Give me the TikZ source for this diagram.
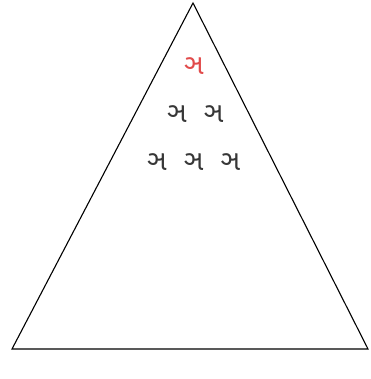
\documentclass[tikz,border=0pt]{standalone}
\usepackage{fontspec}
\newfontfamily\gujfont[Script=Gujarati]{Noto Sans Gujarati UI}
\usetikzlibrary{positioning}
\definecolor{topred}{RGB}{225,75,75}
\definecolor{letgray}{RGB}{55,55,55}
\tikzset{
    letter/.style={font=\gujfont\fontsize{28}{28}\selectfont, text=letgray, inner sep=0pt},
    topletter/.style={letter, text=topred},
}
\begin{document}
\begin{tikzpicture}[x=1pt, y=-1pt]
        \useasboundingbox (0,0) rectangle (370,379);
        \coordinate (apex) at (193,3);
        \coordinate (left) at (12,349);
        \coordinate (right) at (368,349);
        \draw[line width=1.1pt, line join=miter] (apex) -- (right) -- (left) -- cycle;
        \node [topletter] (top) at (194,66) {ઞ};
        \node [letter] (midl) at (177,114) {ઞ};
        \node [letter, right=17pt of midl] (midr) {ઞ};
        \node [letter] (lowl) at (157,162) {ઞ};
        \node [letter, right=17pt of lowl] (lowm) {ઞ};
        \node [letter, right=17pt of lowm] (lowr) {ઞ};
    \end{tikzpicture}
\end{document}
